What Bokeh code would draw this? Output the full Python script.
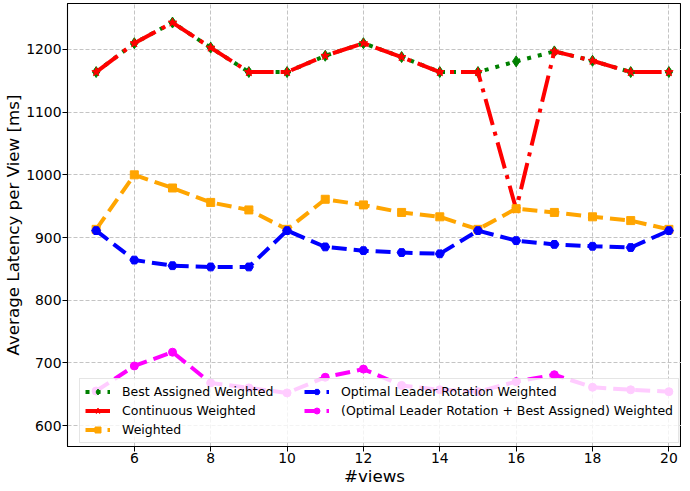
from bokeh.plotting import figure
from bokeh.models import FixedTicker, Range1d, Legend, LegendItem
from bokeh.embed import file_html
from bokeh.resources import INLINE

views = list(range(5, 21))
best_assigned = [1164, 1210, 1243, 1203, 1164, 1164, 1190, 1210, 1188, 1164, 1164, 1181, 1197, 1182, 1164, 1164]
continuous = [1164, 1210, 1243, 1203, 1164, 1164, 1190, 1210, 1188, 1164, 1164, 945, 1197, 1182, 1164, 1164]
weighted = [913, 1000, 979, 956, 944, 913, 961, 952, 940, 933, 913, 946, 940, 933, 927, 913]
olr = [911, 864, 855, 853, 853, 911, 885, 879, 876, 874, 911, 895, 889, 886, 884, 911]
olr_ba = [655, 695, 717, 668, 660, 652, 677, 690, 664, 657, 654, 670, 681, 661, 657, 654]

x_ticks = [6, 8, 10, 12, 14, 16, 18, 20]
y_ticks = [600, 700, 800, 900, 1000, 1100, 1200]

FONT = "DejaVu Sans"

p = figure(frame_width=614, frame_height=443, output_backend="svg", toolbar_location=None,
           x_range=Range1d(4.25, 20.33), y_range=Range1d(566.5, 1273.4),
           min_border_left=59, min_border_right=0, min_border_top=3, min_border_bottom=0)
p.background_fill_color = "white"
p.outline_line_color = "black"
p.outline_line_width = 1.1

for ax in (p.xaxis[0], p.yaxis[0]):
    ax.axis_line_color = "black"
    ax.major_tick_line_color = "black"
    ax.major_tick_out = 5
    ax.major_tick_in = 0
    ax.minor_tick_line_color = None
    ax.major_label_text_font = FONT
    ax.major_label_text_font_size = "13.9px"
    ax.major_label_text_color = "black"
    ax.major_label_text_line_height = 1.0
    ax.axis_label_text_font = FONT
    ax.axis_label_text_font_size = "16.7px"
    ax.axis_label_text_font_style = "normal"
    ax.axis_label_text_color = "black"
    ax.axis_label_text_line_height = 1.0
    ax.major_label_standoff = 1

p.xaxis.ticker = FixedTicker(ticks=x_ticks)
p.yaxis.ticker = FixedTicker(ticks=y_ticks)
p.xaxis.axis_label = "#views"
p.yaxis.axis_label = "Average Latency per View [ms]"
p.xaxis.axis_label_standoff = 0
p.yaxis.axis_label_standoff = 0

p.grid.grid_line_color = "#c4c4c4"
p.grid.grid_line_dash = "4 2"
p.grid.grid_line_width = 1

LW = 4
r1 = p.line(views, best_assigned, line_color="green", line_width=LW, line_dash="4 7")
m1 = p.scatter(views, best_assigned, marker="diamond", size=11, color="green")
r2 = p.line(views, continuous, line_color="red", line_width=LW, line_dash="27 7 4 7")
m2 = p.scatter(views, continuous, marker="star", size=9, color="red")
r3 = p.line(views, weighted, line_color="orange", line_width=LW, line_dash="15 7")
m3 = p.scatter(views, weighted, marker="square", size=8, color="orange")
r4 = p.line(views, olr, line_color="blue", line_width=LW, line_dash="15 7")
m4 = p.scatter(views, olr, marker="hex", size=9, color="blue")
r5 = p.line(views, olr_ba, line_color="magenta", line_width=LW, line_dash="15 7")
m5 = p.scatter(views, olr_ba, marker="circle", size=8, color="magenta")

legend = Legend(items=[
    LegendItem(label="Best Assigned Weighted", renderers=[r1, m1]),
    LegendItem(label="Continuous Weighted", renderers=[r2, m2]),
    LegendItem(label="Weighted", renderers=[r3, m3]),
    LegendItem(label="Optimal Leader Rotation Weighted", renderers=[r4, m4]),
    LegendItem(label="(Optimal Leader Rotation + Best Assigned) Weighted", renderers=[r5, m5]),
], nrows=3, location=(12, 3), margin=0, padding=5, spacing=4,
    glyph_width=25, glyph_height=15, label_standoff=12, label_width=178,
    label_text_font=FONT, label_text_font_size="12.5px", label_text_color="black",
    border_line_color="#cccccc", border_line_width=1,
    background_fill_color="white", background_fill_alpha=0.8)
p.add_layout(legend, "center")

open("out.html", "w").write(file_html(p, INLINE))
